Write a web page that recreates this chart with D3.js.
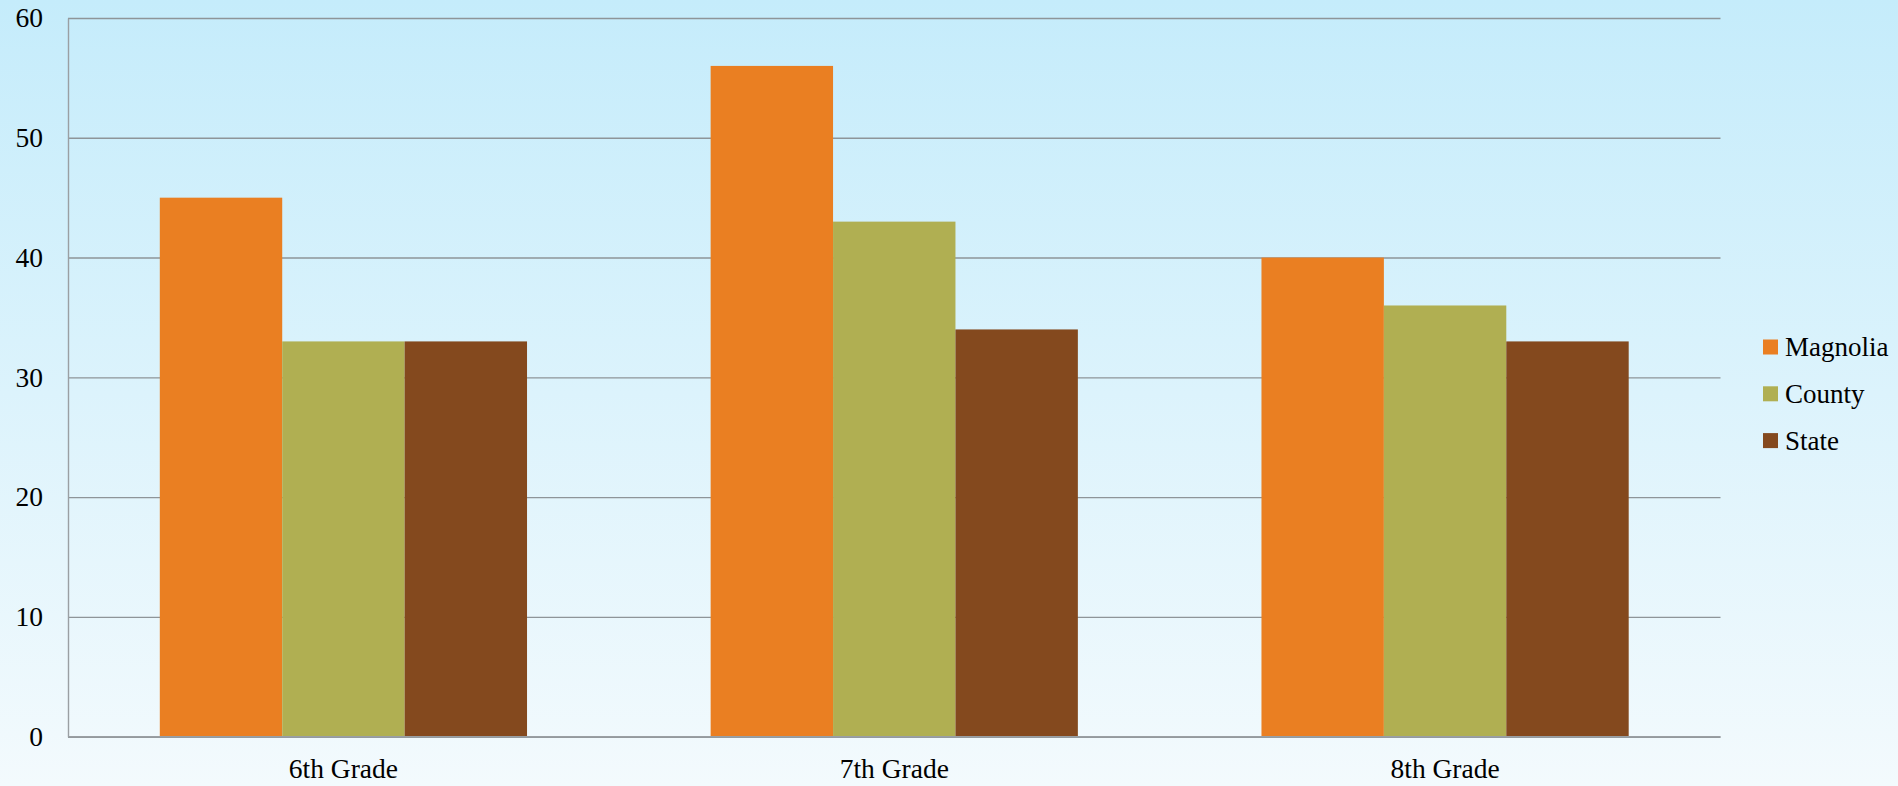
<!DOCTYPE html>
<html>
<head>
<meta charset="utf-8">
<script src="https://cdn.jsdelivr.net/npm/d3@7"></script>
<style>
  html, body { margin: 0; padding: 0; overflow: hidden; }
  body { width: 1898px; height: 786px; }
  text { font-family: "Liberation Serif", "DejaVu Serif", serif; fill: #000; }
</style>
</head>
<body>
<svg id="chart" width="1898" height="786"></svg>
<script>
const categories = ["6th Grade", "7th Grade", "8th Grade"];
const seriesNames = ["Magnolia", "County", "State"];
const magnolia = [45, 56, 40];
const county = [33, 43, 36];
const state = [33, 34, 33];
const yTicks = [0, 10, 20, 30, 40, 50, 60];
const colors = ["#EA7F22", "#B0AF52", "#84491E"];

const seriesValues = [magnolia, county, state];

const W = 1898, H = 786;
const margin = { left: 68, right: 1898 - 1720.5, top: 18, bottom: 786 - 736.7 };
const svg = d3.select("#chart");

// background gradient
const defs = svg.append("defs");
const grad = defs.append("linearGradient").attr("id", "bg")
  .attr("x1", 0).attr("y1", 0).attr("x2", 0).attr("y2", 1);
grad.append("stop").attr("offset", "0%").attr("stop-color", "#C5ECFB");
grad.append("stop").attr("offset", "100%").attr("stop-color", "#F3FAFD");
svg.append("rect").attr("width", W).attr("height", H).attr("fill", "url(#bg)");

const x0 = d3.scaleBand().domain(categories)
  .range([margin.left, W - margin.right]).padding(0);
const bw = x0.bandwidth();
const x1 = d3.scaleBand().domain(seriesNames)
  .range([bw / 6, bw * 5 / 6]).padding(0);
const y = d3.scaleLinear().domain([0, 60]).range([H - margin.bottom, margin.top]);

// gridlines
const grid = svg.append("g")
  .attr("transform", `translate(${margin.left},0)`)
  .call(d3.axisLeft(y).tickValues(yTicks).tickSize(-(W - margin.right - margin.left)).tickFormat(""));
grid.select(".domain").remove();
grid.selectAll(".tick line").attr("stroke", "#8E9599").attr("stroke-width", 1.4);

// bars
const groups = svg.append("g").selectAll("g")
  .data(categories).join("g")
  .attr("transform", d => `translate(${x0(d)},0)`);
groups.selectAll("rect")
  .data((c, i) => seriesNames.map((s, j) => ({ s, v: seriesValues[j][i], j })))
  .join("rect")
  .attr("x", d => x1(d.s))
  .attr("width", x1.bandwidth())
  .attr("y", d => y(d.v))
  .attr("height", d => y(0) - y(d.v))
  .attr("fill", d => colors[d.j]);

// y axis line and labels
const yAxis = svg.append("g")
  .attr("transform", `translate(${margin.left},0)`)
  .call(d3.axisLeft(y).tickValues(yTicks).tickSize(0).tickPadding(25));
yAxis.select(".domain").attr("stroke", "#9A9FA3").attr("stroke-width", 1.4);
yAxis.selectAll("text").attr("font-size", 27.5).attr("font-family", "Liberation Serif").attr("fill", "#000");

// bottom axis line
svg.append("line")
  .attr("x1", margin.left).attr("x2", W - margin.right)
  .attr("y1", y(0)).attr("y2", y(0))
  .attr("stroke", "#9A9FA3").attr("stroke-width", 1.4);

// x labels
const xAxis = svg.append("g")
  .attr("transform", `translate(0,${y(0)})`)
  .call(d3.axisBottom(x0).tickSize(0).tickPadding(22));
xAxis.select(".domain").remove();
xAxis.selectAll("text").attr("font-size", 27.5).attr("font-family", "Liberation Serif").attr("fill", "#000");

// legend
const legend = svg.append("g").attr("transform", "translate(1763,347)");
const items = legend.selectAll("g").data(seriesNames).join("g")
  .attr("transform", (d, i) => `translate(0,${i * 46.8})`);
items.append("rect").attr("x", 0).attr("y", -7.5).attr("width", 15).attr("height", 15)
  .attr("fill", (d, i) => colors[i]);
items.append("text").attr("x", 22).attr("y", 0).attr("dy", "0.35em")
  .attr("font-size", 27).text(d => d);
</script>
</body>
</html>
